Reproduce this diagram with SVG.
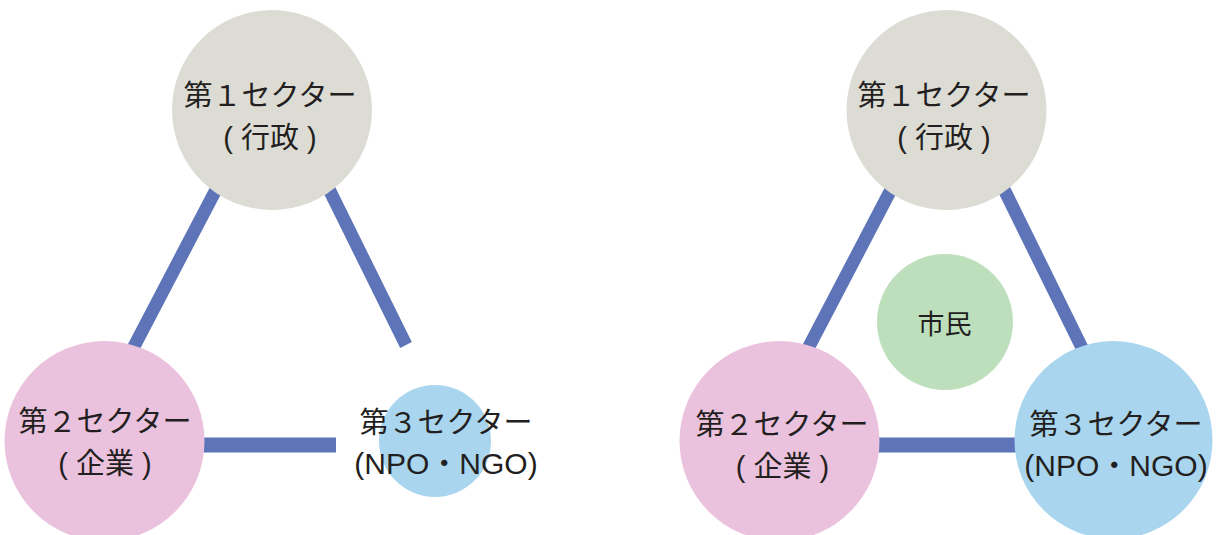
<svg xmlns="http://www.w3.org/2000/svg" width="1217" height="535" viewBox="0 0 1217 535">
<style>
.conn{stroke:#5d74b8;stroke-width:13;stroke-linecap:butt;fill:none}
.h{stroke-width:15}
.s1{fill:#dcdcd5}
.s2{fill:#ebc2dd}
.s3{fill:#a9d5ef}
.cz{fill:#bddfbc}
text{font-family:"Liberation Sans","Noto Sans CJK JP",sans-serif;font-size:29px;fill:#231f20;text-anchor:middle}
.lat{font-size:30px}
</style>
<rect width="1217" height="535" fill="#ffffff"/>
<g id="connectors">
<line class="conn" x1="226" y1="170.5" x2="128" y2="358"/>
<line class="conn" x1="319" y1="169" x2="406" y2="345"/>
<line class="conn h" x1="180" y1="445" x2="336" y2="445"/>
<line class="conn" x1="901" y1="170.5" x2="803" y2="358"/>
<line class="conn" x1="994" y1="169" x2="1088" y2="360"/>
<line class="conn h" x1="855" y1="445" x2="1040" y2="445"/>
</g>
<g id="left-sector1">
<circle class="s1" cx="272" cy="110" r="100"/>
<text x="270" y="106">第１セクター</text>
<text x="270" y="148">( 行政 )</text>
</g>
<g id="left-sector2">
<circle class="s2" cx="104.5" cy="441" r="100"/>
<text x="105" y="432">第２セクター</text>
<text x="105" y="474">( 企業 )</text>
</g>
<g id="left-sector3">
<circle class="s3" cx="435" cy="441" r="56"/>
<text x="446" y="433">第３セクター</text>
<text class="lat" x="446" y="474">(NPO・NGO)</text>
</g>
<g id="right-sector1">
<circle class="s1" cx="946.5" cy="110" r="100"/>
<text x="944" y="106">第１セクター</text>
<text x="944" y="148">( 行政 )</text>
</g>
<g id="right-citizen">
<circle class="cz" cx="945" cy="322" r="68"/>
<text x="944.5" y="334" style="font-size:27px">市民</text>
</g>
<g id="right-sector2">
<circle class="s2" cx="779.5" cy="441" r="100"/>
<text x="782" y="435">第２セクター</text>
<text x="782.5" y="477">( 企業 )</text>
</g>
<g id="right-sector3">
<circle class="s3" cx="1113.5" cy="440" r="99"/>
<text x="1116" y="435">第３セクター</text>
<text class="lat" x="1116" y="476">(NPO・NGO)</text>
</g>
</svg>
